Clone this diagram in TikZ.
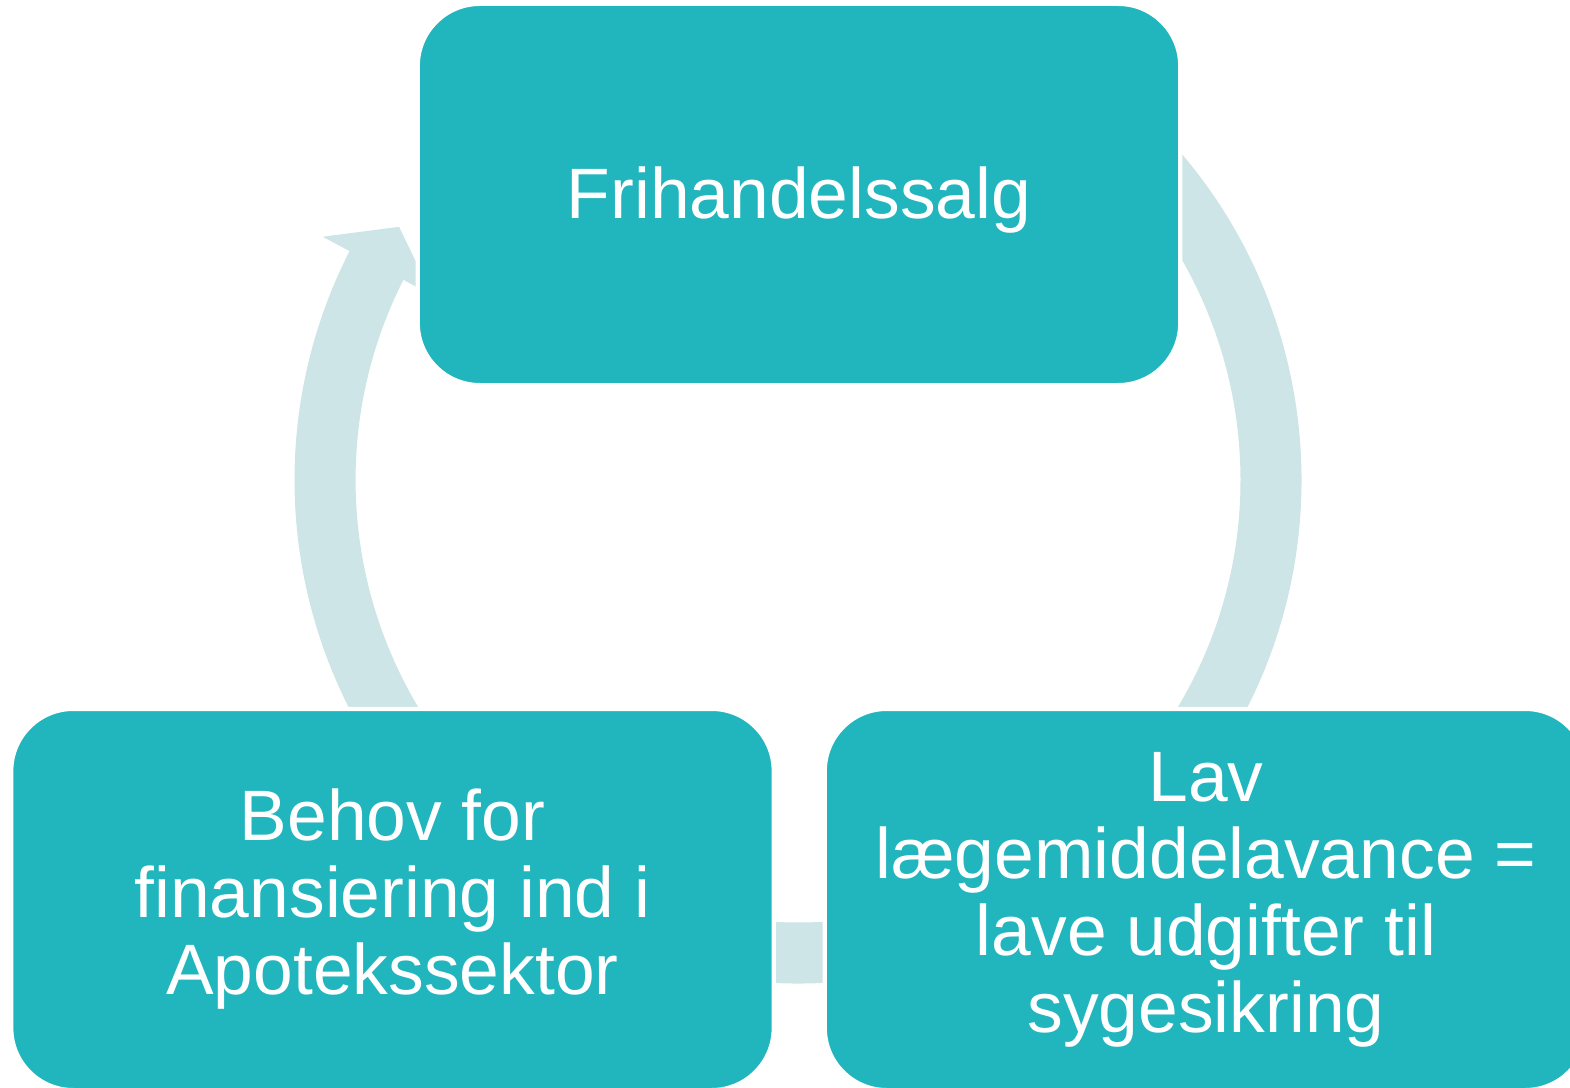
\documentclass[tikz,border=0pt]{standalone}
\usepackage{fontspec}
\setmainfont{Liberation Sans}
\definecolor{kassefarve}{RGB}{33,181,190}
\definecolor{pilfarve}{RGB}{205,229,230}

\tikzset{kasse/.style = {rectangle, rounded corners=0.62cm, fill=kassefarve, draw=white,
                         line width=1.2pt, minimum width=7.62cm, minimum height=3.81cm,
                         inner sep=0pt, outer sep=0pt, text=white, align=center,
                         execute at begin node=\rule{0pt}{17.6pt},
                         font=\fontsize{20.3}{21.9}\selectfont},
         pil/.style = {draw=pilfarve, line width=0.61cm}
        }

\begin{document}
\begin{tikzpicture}[x=0.01cm, y=0.01cm]
  \useasboundingbox (0, 0) rectangle (1570, 1087);
  \coordinate (c) at (798, 607);
  \draw[pil] ([shift={(50:473)}]c) arc[start angle=50, end angle=-40, radius=473];
  \draw[pil] ([shift={(-80:473)}]c) arc[start angle=-80, end angle=-100, radius=473];
  \draw[pil] ([shift={(220:473)}]c) arc[start angle=220, end angle=152.6, radius=473];
  \fill[pilfarve] ([shift={(152.9:534)}]c) -- ([shift={(147.6:472.5)}]c) -- ([shift={(153.2:410)}]c) -- cycle;
  \node[kasse] (frihandel) at (799, 892.5) {Frihandelssalg};
  \node[kasse] (behov) at (392.5, 187.5) {Behov for\\finansiering ind i\\Apotekssektor};
  \node[kasse] (lav) at (1206, 187.5) {Lav\\lægemiddelavance =\\lave udgifter til\\sygesikring};
\end{tikzpicture}
\end{document}
